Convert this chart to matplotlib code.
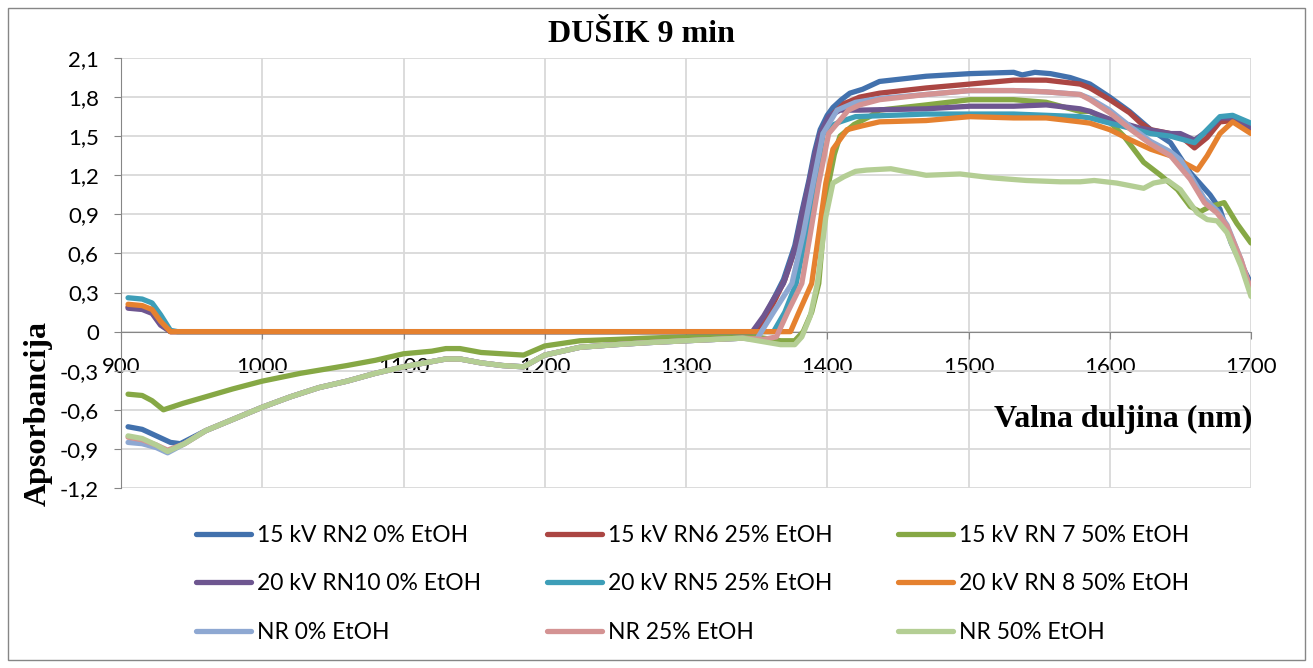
import matplotlib
matplotlib.use('Agg')
import matplotlib.pyplot as plt
from matplotlib.ticker import FuncFormatter, MultipleLocator
from matplotlib.patches import Rectangle

# data (wavelength nm, absorbance)
low_wl = [960, 980, 1000, 1020, 1040, 1060, 1080, 1100, 1120, 1130, 1140, 1155,
          1170, 1185, 1200, 1225, 1250, 1272, 1300, 1320, 1340]
low_ab = [-0.76, -0.67, -0.58, -0.50, -0.43, -0.38, -0.32, -0.27, -0.23, -0.21,
          -0.21, -0.24, -0.26, -0.27, -0.18, -0.12, -0.10, -0.085, -0.07, -0.06, -0.05]

wl_rn2 = [905, 915, 925, 935, 942] + low_wl + [1348, 1355, 1362, 1369, 1377, 1382, 1387,
          1391, 1395, 1400, 1404, 1410, 1416, 1425, 1437, 1470, 1501, 1532, 1538, 1547,
          1558, 1572, 1586, 1600, 1614, 1629, 1643, 1657, 1671, 1678, 1686, 1693, 1700]
ab_rn2 = [-0.73, -0.75, -0.80, -0.85, -0.86] + low_ab + [-0.02, 0.10, 0.25, 0.40, 0.66, 0.92,
          1.16, 1.38, 1.55, 1.66, 1.72, 1.78, 1.83, 1.86, 1.92, 1.96, 1.98, 1.99, 1.97, 1.99,
          1.98, 1.95, 1.90, 1.80, 1.69, 1.55, 1.45, 1.22, 1.05, 0.94, 0.68, 0.52, 0.37]

wl_rn6 = [905, 915, 922, 928, 935, 1348, 1355, 1362, 1370, 1378, 1384, 1389, 1393, 1398,
          1404, 1412, 1423, 1437, 1470, 1501, 1532, 1555, 1579, 1586, 1600, 1614, 1622,
          1629, 1643, 1650, 1660, 1669, 1678, 1687, 1700]
ab_rn6 = [0.19, 0.18, 0.15, 0.06, 0.0, 0.0, 0.08, 0.22, 0.40, 0.66, 0.95, 1.20, 1.40, 1.56,
          1.67, 1.75, 1.80, 1.83, 1.87, 1.90, 1.93, 1.93, 1.90, 1.87, 1.78, 1.68, 1.60,
          1.55, 1.52, 1.50, 1.41, 1.49, 1.61, 1.62, 1.55]

wl_rn7 = [905, 915, 922, 930, 944, 960, 979, 1000, 1027, 1060, 1080, 1100, 1120, 1130,
          1140, 1155, 1170, 1185, 1200, 1225, 1250, 1272, 1300, 1320, 1343, 1367, 1377,
          1383, 1389, 1394, 1397, 1401, 1405, 1409, 1419, 1430, 1437, 1470, 1501, 1532,
          1555, 1579, 1586, 1600, 1610, 1624, 1636, 1648, 1657, 1664, 1671, 1681, 1690, 1700]
ab_rn7 = [-0.48, -0.49, -0.53, -0.60, -0.55, -0.50, -0.44, -0.38, -0.32, -0.26, -0.22,
          -0.17, -0.15, -0.13, -0.13, -0.16, -0.17, -0.18, -0.11, -0.07, -0.06, -0.05,
          -0.04, -0.035, -0.03, -0.07, -0.07, 0.0, 0.15, 0.37, 0.75, 1.14, 1.36, 1.50,
          1.59, 1.65, 1.70, 1.74, 1.78, 1.78, 1.76, 1.69, 1.69, 1.61, 1.50, 1.30, 1.20,
          1.09, 0.96, 0.92, 0.96, 0.99, 0.83, 0.68]

wl_rn10 = [905, 915, 922, 928, 935, 1347, 1355, 1362, 1369, 1377, 1382, 1387, 1391, 1395,
           1401, 1409, 1423, 1470, 1501, 1532, 1555, 1579, 1586, 1600, 1622, 1643, 1650,
           1660, 1669, 1678, 1687, 1700]
ab_rn10 = [0.18, 0.17, 0.14, 0.05, 0.0, 0.0, 0.12, 0.25, 0.37, 0.63, 0.90, 1.14, 1.35, 1.52,
           1.65, 1.70, 1.70, 1.71, 1.73, 1.73, 1.74, 1.71, 1.69, 1.63, 1.56, 1.52, 1.52,
           1.47, 1.54, 1.64, 1.64, 1.57]

wl_rn5 = [905, 915, 922, 928, 935, 940, 1362, 1370, 1378, 1385, 1392, 1397, 1403, 1409,
          1420, 1470, 1501, 1532, 1579, 1586, 1600, 1615, 1629, 1643, 1660, 1669, 1678,
          1687, 1700]
ab_rn5 = [0.26, 0.25, 0.22, 0.13, 0.01, 0.0, 0.0, 0.15, 0.37, 0.75, 1.14, 1.52, 1.58, 1.61,
          1.65, 1.67, 1.67, 1.67, 1.65, 1.64, 1.60, 1.56, 1.52, 1.50, 1.45, 1.55, 1.65,
          1.66, 1.60]

wl_rn8 = [905, 915, 922, 928, 935, 1374, 1380, 1389, 1394, 1399, 1404, 1414, 1425, 1437,
          1470, 1501, 1532, 1555, 1579, 1586, 1600, 1615, 1629, 1643, 1657, 1662, 1669,
          1678, 1687, 1700]
ab_rn8 = [0.21, 0.20, 0.17, 0.08, 0.0, 0.0, 0.15, 0.37, 0.75, 1.14, 1.40, 1.55, 1.58, 1.61,
          1.62, 1.65, 1.64, 1.64, 1.61, 1.60, 1.55, 1.47, 1.40, 1.35, 1.27, 1.24, 1.35,
          1.52, 1.61, 1.52]

wl_nr0 = [905, 915, 925, 933, 945] + low_wl + [1350, 1362, 1375, 1383, 1390, 1397, 1407,
          1420, 1437, 1470, 1501, 1532, 1555, 1579, 1586, 1600, 1615, 1629, 1643, 1650,
          1657, 1667, 1676, 1683, 1693, 1700]
ab_nr0 = [-0.85, -0.86, -0.89, -0.93, -0.86] + low_ab + [-0.06, 0.15, 0.37, 0.75, 1.14,
          1.52, 1.70, 1.76, 1.79, 1.82, 1.85, 1.85, 1.84, 1.82, 1.79, 1.70, 1.57, 1.46,
          1.38, 1.32, 1.20, 1.02, 0.93, 0.82, 0.55, 0.30]

wl_nr25 = [905, 915, 925, 933, 945] + low_wl + [1355, 1364, 1372, 1382, 1388, 1394, 1401,
           1415, 1423, 1437, 1470, 1501, 1532, 1555, 1579, 1586, 1600, 1615, 1629, 1643,
           1657, 1667, 1676, 1683, 1693, 1700]
ab_nr25 = [-0.81, -0.83, -0.87, -0.91, -0.86] + low_ab + [-0.06, -0.04, 0.15, 0.37, 0.75,
           1.14, 1.52, 1.70, 1.74, 1.78, 1.82, 1.85, 1.85, 1.84, 1.82, 1.78, 1.68, 1.55,
           1.44, 1.35, 1.17, 0.99, 0.91, 0.81, 0.55, 0.32]

wl_nr50 = [905, 915, 925, 933, 945] + low_wl + [1367, 1377, 1382, 1388, 1393, 1399, 1404,
           1412, 1420, 1428, 1445, 1470, 1494, 1517, 1541, 1565, 1579, 1589, 1605, 1624,
           1631, 1641, 1650, 1662, 1669, 1676, 1683, 1693, 1700]
ab_nr50 = [-0.80, -0.82, -0.87, -0.92, -0.86] + low_ab + [-0.10, -0.10, -0.04, 0.12, 0.37,
           0.88, 1.14, 1.19, 1.23, 1.24, 1.25, 1.20, 1.21, 1.18, 1.16, 1.15, 1.15, 1.16,
           1.14, 1.10, 1.14, 1.16, 1.09, 0.91, 0.86, 0.85, 0.76, 0.50, 0.27]

labels = ['15 kV RN2 0% EtOH', '15 kV RN6 25% EtOH', '15 kV RN 7 50% EtOH',
          '20 kV RN10 0% EtOH', '20 kV RN5 25% EtOH', '20 kV RN 8 50% EtOH',
          'NR 0% EtOH', 'NR 25% EtOH', 'NR 50% EtOH']
series = [(wl_rn2, ab_rn2), (wl_rn6, ab_rn6), (wl_rn7, ab_rn7),
          (wl_rn10, ab_rn10), (wl_rn5, ab_rn5), (wl_rn8, ab_rn8),
          (wl_nr0, ab_nr0), (wl_nr25, ab_nr25), (wl_nr50, ab_nr50)]
colors = ['#4271AD', '#AB4643', '#86A845', '#6E5690', '#3D9EB8', '#E5812F',
          '#8EA8D2', '#D49393', '#B4CE94']

plt.rcParams['font.family'] = ['Lato', 'DejaVu Sans']

# setup figure
fig = plt.figure(figsize=(13.13, 6.68), dpi=100)
ax = fig.add_axes([121 / 1313, 1 - 488 / 668, 1130 / 1313, 430 / 668])

lines = []
for (wl, ab), lab, col in zip(series, labels, colors):
    ln, = ax.plot(wl, ab, color=col, lw=3.8, label=lab,
                  solid_capstyle='round', solid_joinstyle='round')
    lines.append(ln)

# axes like the Excel original
ax.set_xlim(900, 1700)
ax.set_ylim(-1.2, 2.1)
ax.xaxis.set_major_locator(MultipleLocator(100))
ax.yaxis.set_major_locator(MultipleLocator(0.3))
ax.grid(True, color='#D9D9D9', lw=1.3)
ax.set_axisbelow(True)
for s in ['top', 'right']:
    ax.spines[s].set_visible(False)
ax.spines['bottom'].set_position(('data', 0))
ax.spines['bottom'].set_color('#868686')
ax.spines['left'].set_color('#868686')
ax.spines['bottom'].set_zorder(1.5)


def comma(v, pos):
    if abs(v) < 1e-9:
        return '0'
    return ('%.1f' % v).replace('.', ',')


ax.yaxis.set_major_formatter(FuncFormatter(comma))
ax.tick_params(axis='y', length=5, color='#868686', labelsize=16, pad=11)
ax.tick_params(axis='x', length=5, color='#868686', labelsize=16, pad=13)

fig.text(641 / 1313, 1 - 35 / 668, 'DUŠIK 9 min', family='Liberation Serif',
         weight='bold', size=23, ha='center', va='center')
fig.text(1252 / 1313, 1 - 419 / 668, 'Valna duljina (nm)', family='Liberation Serif',
         weight='bold', size=23, ha='right', va='center')
fig.text(38 / 1313, 1 - 413 / 668, 'Apsorbancija', family='Liberation Serif',
         weight='bold', size=23, ha='center', va='center', rotation=90)

# legend: three columns placed by hand
col_x = [196, 547, 898]
for i, x in enumerate(col_x):
    hs = [lines[i], lines[i + 3], lines[i + 6]]
    fig.legend(hs, [h.get_label() for h in hs], loc='center left',
               bbox_to_anchor=(x / 1313, 1 - 584 / 668), frameon=False,
               fontsize=16.5, handlelength=2.4, handletextpad=0.25,
               labelspacing=1.2, borderpad=0, borderaxespad=0)

fig.patches.append(Rectangle((8 / 1313, 8 / 668), 1297 / 1313, 652 / 668,
                             transform=fig.transFigure, fill=False,
                             edgecolor='#868686', lw=1))

fig.savefig('out.png', dpi=100)
